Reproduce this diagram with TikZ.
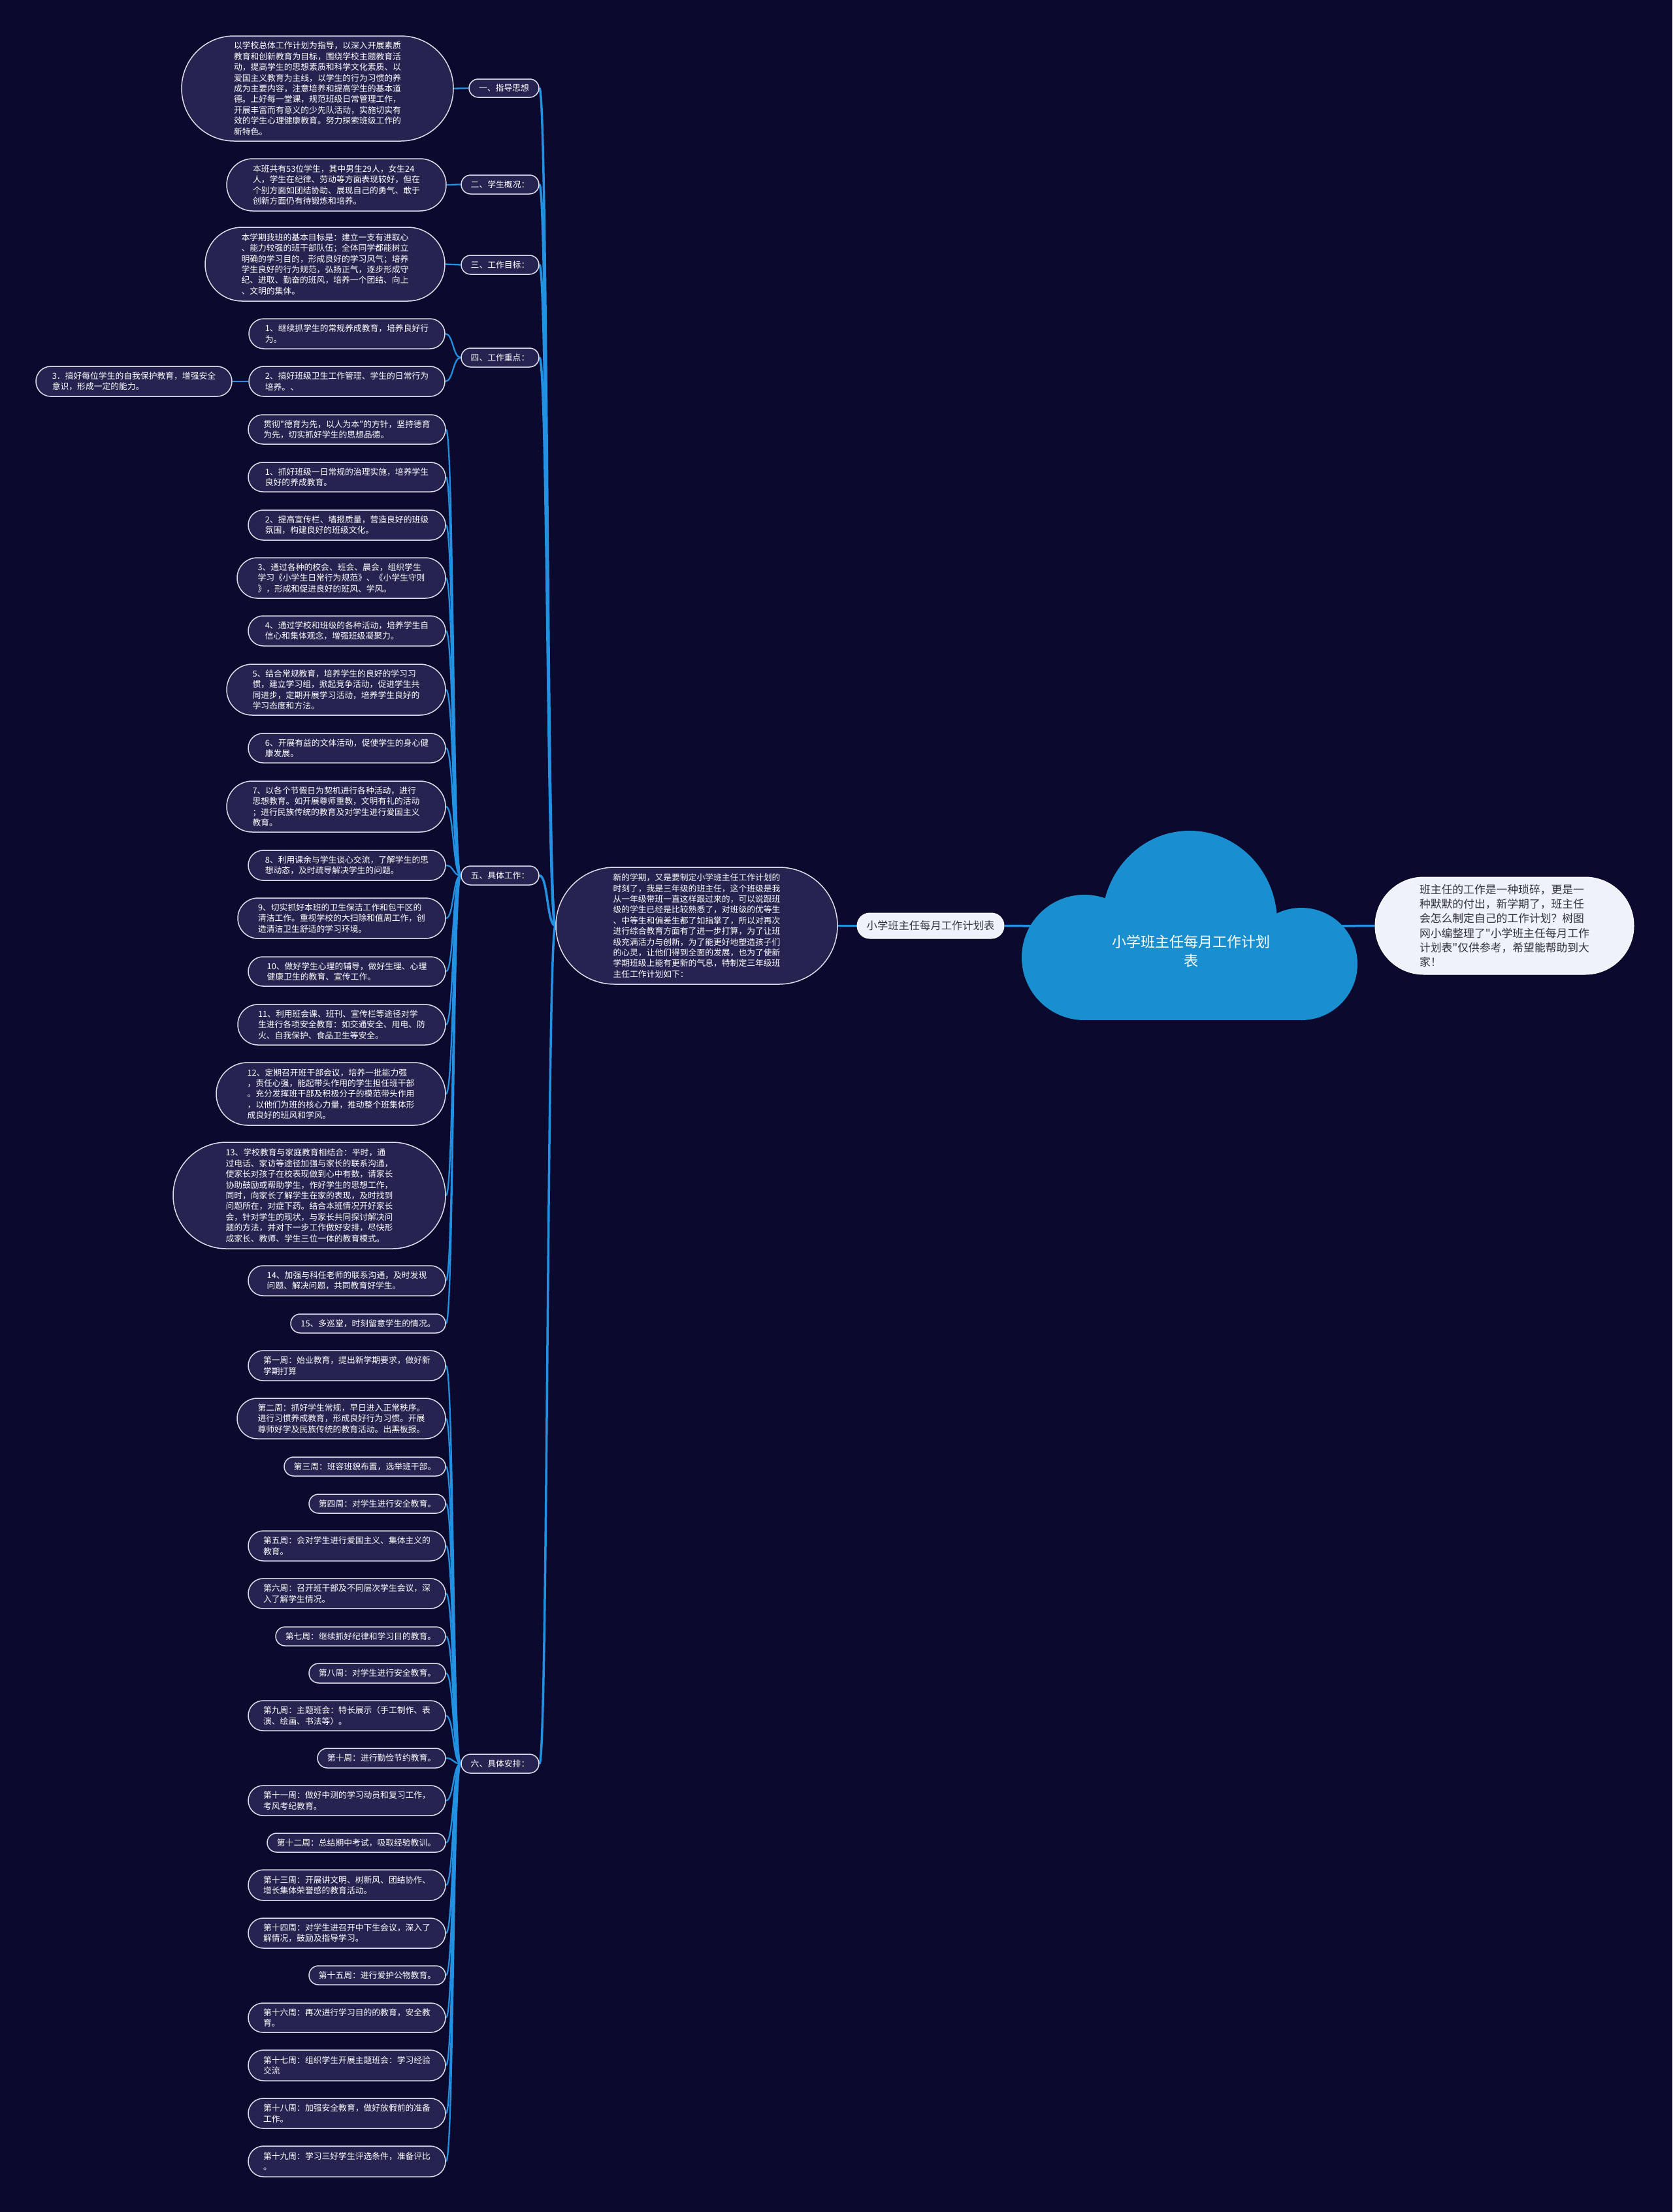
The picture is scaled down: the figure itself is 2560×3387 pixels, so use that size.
\documentclass[tikz,border=0pt]{standalone}
\usepackage{fontspec}
\newfontfamily\cjk{Noto Sans CJK SC}
\usetikzlibrary{backgrounds}
\definecolor{bgcol}{RGB}{11,10,46}
\definecolor{nodefill}{RGB}{37,35,80}
\definecolor{edgecol}{RGB}{222,222,235}
\definecolor{linkcol}{RGB}{35,145,225}
\definecolor{cloudblue}{RGB}{26,143,208}
\definecolor{lightfill}{RGB}{238,242,250}
\definecolor{darktext}{RGB}{50,50,62}

\newcommand\boxnode[7]{%
  \pgfmathsetmacro\bw{#5-#3}%
  \pgfmathsetmacro\bh{#6-#4}%
  \pgfmathsetmacro\br{\bh/2-0.05}%
  \pgfmathsetmacro\bx{(#3+#5)/2}%
  \pgfmathsetmacro\by{(#4+#6)/2}%
  \node[#1, minimum width=\bw pt, minimum height=\bh pt, rounded corners=\br pt] (#2) at (\bx,\by) {#7};%
}

\begin{document}
\begin{tikzpicture}[x=1pt,y=-1pt,
  darkbox/.style={draw=edgecol, line width=1.5pt, fill=nodefill, text=white, inner sep=0pt, align=left, font=\cjk\fontsize{12.8pt}{16.4pt}\selectfont},
  lightbox/.style={draw=white, line width=1pt, fill=lightfill, text=darktext, inner sep=0pt, align=left, font=\cjk\fontsize{16.8pt}{22.3pt}\selectfont},
  titlebox/.style={draw=white, line width=1pt, fill=lightfill, text=darktext, inner sep=0pt, align=center, font=\cjk\fontsize{16.3pt}{20pt}\selectfont},
  trunk/.style={draw=linkcol, line width=3.5pt},
  sub/.style={draw=linkcol, line width=2.3pt},
]
\useasboundingbox (0,0) rectangle (2560,3387);
\begin{scope}[on background layer]
\fill[bgcol] (0,0) rectangle (2560,3387);
\end{scope}

% cloud
\fill[cloudblue] (1821,1412) ellipse[x radius=134pt, y radius=140pt];
\fill[cloudblue] (1660,1466) circle[radius=96pt];
\fill[cloudblue] (1992,1476) circle[radius=86pt];
\fill[cloudblue] (1660,1480) rectangle (1992,1562);
\node[font=\cjk\fontsize{22pt}{29pt}\selectfont, text=white, align=center] (root) at (1823,1457) {小学班主任每月工作计划\\表};
\coordinate (cloudL) at (1600,1418);
\coordinate (cloudR) at (2040,1418);

% center nodes
\boxnode{darkbox}{mid}{851}{1328}{1282}{1507}{新的学期，又是要制定小学班主任工作计划的\\时刻了，我是三年级的班主任，这个班级是我\\从一年级带班一直这样跟过来的，可以说跟班\\级的学生已经是比较熟悉了，对班级的优等生\\、中等生和偏差生都了如指掌了，所以对再次\\进行综合教育方面有了进一步打算，为了让班\\级充满活力与创新，为了能更好地塑造孩子们\\的心灵，让他们得到全面的发展，也为了使新\\学期班级上能有更新的气息，特制定三年级班\\主任工作计划如下：}
\boxnode{titlebox}{ttl}{1312}{1398}{1537}{1437}{小学班主任每月工作计划表}
\boxnode{lightbox}{intro}{2105}{1343}{2501}{1492}{班主任的工作是一种琐碎，更是一\\种默默的付出，新学期了，班主任\\会怎么制定自己的工作计划？树图\\网小编整理了"小学班主任每月工作\\计划表"仅供参考，希望能帮助到大\\家！}

% section labels
\boxnode{darkbox}{l1}{718}{121}{825}{149}{一、指导思想}
\boxnode{darkbox}{l2}{706}{268}{825}{297}{二、学生概况：}
\boxnode{darkbox}{l3}{706}{391}{825}{420}{三、工作目标：}
\boxnode{darkbox}{l4}{706}{533}{825}{562}{四、工作重点：}
\boxnode{darkbox}{l5}{706}{1326}{825}{1355}{五、具体工作：}
\boxnode{darkbox}{l6}{706}{2686}{825}{2715}{六、具体安排：}

% leaves
\boxnode{darkbox}{a1}{278}{55}{694}{216}{以学校总体工作计划为指导，以深入开展素质\\教育和创新教育为目标，围绕学校主题教育活\\动，提高学生的思想素质和科学文化素质、以\\爱国主义教育为主线，以学生的行为习惯的养\\成为主要内容，注意培养和提高学生的基本道\\德。上好每一堂课，规范班级日常管理工作，\\开展丰富而有意义的少先队活动，实施切实有\\效的学生心理健康教育。努力探索班级工作的\\新特色。}
\boxnode{darkbox}{b1}{347}{243}{683}{323}{本班共有53位学生，其中男生29人，女生24\\人，学生在纪律、劳动等方面表现较好，但在\\个别方面如团结协助、展现自己的勇气、敢于\\创新方面仍有待锻炼和培养。}
\boxnode{darkbox}{c1}{314}{348}{681}{461}{本学期我班的基本目标是：建立一支有进取心\\、能力较强的班干部队伍；全体同学都能树立\\明确的学习目的，形成良好的学习风气；培养\\学生良好的行为规范，弘扬正气，逐步形成守\\纪、进取、勤奋的班风，培养一个团结、向上\\、文明的集体。}
\boxnode{darkbox}{d1}{381}{488}{681}{534}{1、继续抓学生的常规养成教育，培养良好行\\为。}
\boxnode{darkbox}{d2}{381}{561}{681}{607}{2、搞好班级卫生工作管理、学生的日常行为\\培养。、}
\boxnode{darkbox}{d3}{55}{561}{355}{607}{3．搞好每位学生的自我保护教育，增强安全\\意识，形成一定的能力。}

\boxnode{darkbox}{e0}{380}{635}{682}{680}{贯彻"德育为先，以人为本"的方针，坚持德育\\为先，切实抓好学生的思想品德。}
\boxnode{darkbox}{e1}{380}{708}{682}{753}{1、抓好班级一日常规的治理实施，培养学生\\良好的养成教育。}
\boxnode{darkbox}{e2}{380}{781}{682}{827}{2、提高宣传栏、墙报质量，营造良好的班级\\氛围，构建良好的班级文化。}
\boxnode{darkbox}{e3}{363}{854}{682}{916}{3、通过各种的校会、班会、晨会，组织学生\\学习《小学生日常行为规范》、《小学生守则\\》，形成和促进良好的班风、学风。}
\boxnode{darkbox}{e4}{380}{943}{682}{989}{4、通过学校和班级的各种活动，培养学生自\\信心和集体观念，增强班级凝聚力。}
\boxnode{darkbox}{e5}{347}{1017}{682}{1095}{5、结合常规教育，培养学生的良好的学习习\\惯，建立学习组，掀起竞争活动，促进学生共\\同进步，定期开展学习活动，培养学生良好的\\学习态度和方法。}
\boxnode{darkbox}{e6}{380}{1123}{682}{1168}{6、开展有益的文体活动，促使学生的身心健\\康发展。}
\boxnode{darkbox}{e7}{347}{1196}{682}{1274}{7、以各个节假日为契机进行各种活动，进行\\思想教育。如开展尊师重教，文明有礼的活动\\；进行民族传统的教育及对学生进行爱国主义\\教育。}
\boxnode{darkbox}{e8}{380}{1302}{682}{1348}{8、利用课余与学生谈心交流，了解学生的思\\想动态，及时疏导解决学生的问题。}
\boxnode{darkbox}{e9}{364}{1375}{682}{1437}{9、切实抓好本班的卫生保洁工作和包干区的\\清洁工作。重视学校的大扫除和值周工作，创\\造清洁卫生舒适的学习环境。}
\boxnode{darkbox}{e10}{380}{1465}{682}{1510}{10、做好学生心理的辅导，做好生理、心理\\健康卫生的教育、宣传工作。}
\boxnode{darkbox}{e11}{364}{1538}{682}{1600}{11、利用班会课、班刊、宣传栏等途径对学\\生进行各项安全教育：如交通安全、用电、防\\火、自我保护、食品卫生等安全。}
\boxnode{darkbox}{e12}{331}{1627}{682}{1723}{12、定期召开班干部会议，培养一批能力强\\，责任心强，能起带头作用的学生担任班干部\\。充分发挥班干部及积极分子的模范带头作用\\，以他们为班的核心力量，推动整个班集体形\\成良好的班风和学风。}
\boxnode{darkbox}{e13}{265}{1749}{682}{1912}{13、学校教育与家庭教育相结合：平时，通\\过电话、家访等途径加强与家长的联系沟通，\\使家长对孩子在校表现做到心中有数，请家长\\协助鼓励或帮助学生，作好学生的思想工作，\\同时，向家长了解学生在家的表现，及时找到\\问题所在，对症下药。结合本班情况开好家长\\会，针对学生的现状，与家长共同探讨解决问\\题的方法，并对下一步工作做好安排，尽快形\\成家长、教师、学生三位一体的教育模式。}
\boxnode{darkbox}{e14}{380}{1938}{682}{1984}{14、加强与科任老师的联系沟通，及时发现\\问题、解决问题，共同教育好学生。}
\boxnode{darkbox}{e15}{445}{2012}{682}{2041}{15、多巡堂，时刻留意学生的情况。}

\boxnode{darkbox}{s1}{380}{2068}{682}{2114}{第一周：始业教育，提出新学期要求，做好新\\学期打算}
\boxnode{darkbox}{s2}{363}{2141}{682}{2203}{第二周：抓好学生常规，早日进入正常秩序。\\进行习惯养成教育，形成良好行为习惯。开展\\尊师好学及民族传统的教育活动。出黑板报。}
\boxnode{darkbox}{s3}{435}{2231}{682}{2260}{第三周：班容班貌布置，选举班干部。}
\boxnode{darkbox}{s4}{473}{2288}{682}{2317}{第四周：对学生进行安全教育。}
\boxnode{darkbox}{s5}{380}{2344}{682}{2390}{第五周：会对学生进行爱国主义、集体主义的\\教育。}
\boxnode{darkbox}{s6}{380}{2417}{682}{2463}{第六周：召开班干部及不同层次学生会议，深\\入了解学生情况。}
\boxnode{darkbox}{s7}{422}{2491}{682}{2520}{第七周：继续抓好纪律和学习目的教育。}
\boxnode{darkbox}{s8}{473}{2547}{682}{2577}{第八周：对学生进行安全教育。}
\boxnode{darkbox}{s9}{380}{2604}{682}{2650}{第九周：主题班会：特长展示（手工制作、表\\演、绘画、书法等）。}
\boxnode{darkbox}{s10}{486}{2677}{682}{2707}{第十周：进行勤俭节约教育。}
\boxnode{darkbox}{s11}{380}{2734}{682}{2780}{第十一周：做好中测的学习动员和复习工作，\\考风考纪教育。}
\boxnode{darkbox}{s12}{409}{2807}{682}{2836}{第十二周：总结期中考试，吸取经验教训。}
\boxnode{darkbox}{s13}{380}{2863}{682}{2910}{第十三周：开展讲文明、树新风、团结协作、\\增长集体荣誉感的教育活动。}
\boxnode{darkbox}{s14}{380}{2937}{682}{2983}{第十四周：对学生进召开中下生会议，深入了\\解情况，鼓励及指导学习。}
\boxnode{darkbox}{s15}{473}{3010}{682}{3039}{第十五周：进行爱护公物教育。}
\boxnode{darkbox}{s16}{380}{3067}{682}{3112}{第十六周：再次进行学习目的的教育，安全教\\育。}
\boxnode{darkbox}{s17}{380}{3139}{682}{3186}{第十七周：组织学生开展主题班会：学习经验\\交流}
\boxnode{darkbox}{s18}{380}{3213}{682}{3259}{第十八周：加强安全教育，做好放假前的准备\\工作。}
\boxnode{darkbox}{s19}{380}{3286}{682}{3333}{第十九周：学习三好学生评选条件，准备评比\\。}

% connectors
\begin{scope}[on background layer]
\draw[trunk] (mid.east) -- (ttl.west);
\draw[trunk] (ttl.east) -- (cloudL);
\draw[trunk] (cloudR) -- (intro.west);
\foreach \l in {l1,l2,l3,l4,l5,l6}
  \draw[trunk] (mid.west) .. controls +(-13,0) and +(13,0) .. (\l.east);
\draw[sub] (l1.west) -- (a1.east);
\draw[sub] (l2.west) .. controls +(-12,0) and +(12,0) .. (b1.east);
\draw[sub] (l3.west) .. controls +(-12,0) and +(12,0) .. (c1.east);
\foreach \n in {d1,d2}
  \draw[sub] (l4.west) .. controls +(-12,0) and +(12,0) .. (\n.east);
\draw[sub] (d3.east) -- (d2.west);
\foreach \n in {e0,e1,e2,e3,e4,e5,e6,e7,e8,e9,e10,e11,e12,e13,e14,e15}
  \draw[sub] (l5.west) .. controls +(-12,0) and +(12,0) .. (\n.east);
\foreach \n in {s1,s2,s3,s4,s5,s6,s7,s8,s9,s10,s11,s12,s13,s14,s15,s16,s17,s18,s19}
  \draw[sub] (l6.west) .. controls +(-12,0) and +(12,0) .. (\n.east);
\end{scope}
\end{tikzpicture}
\end{document}
